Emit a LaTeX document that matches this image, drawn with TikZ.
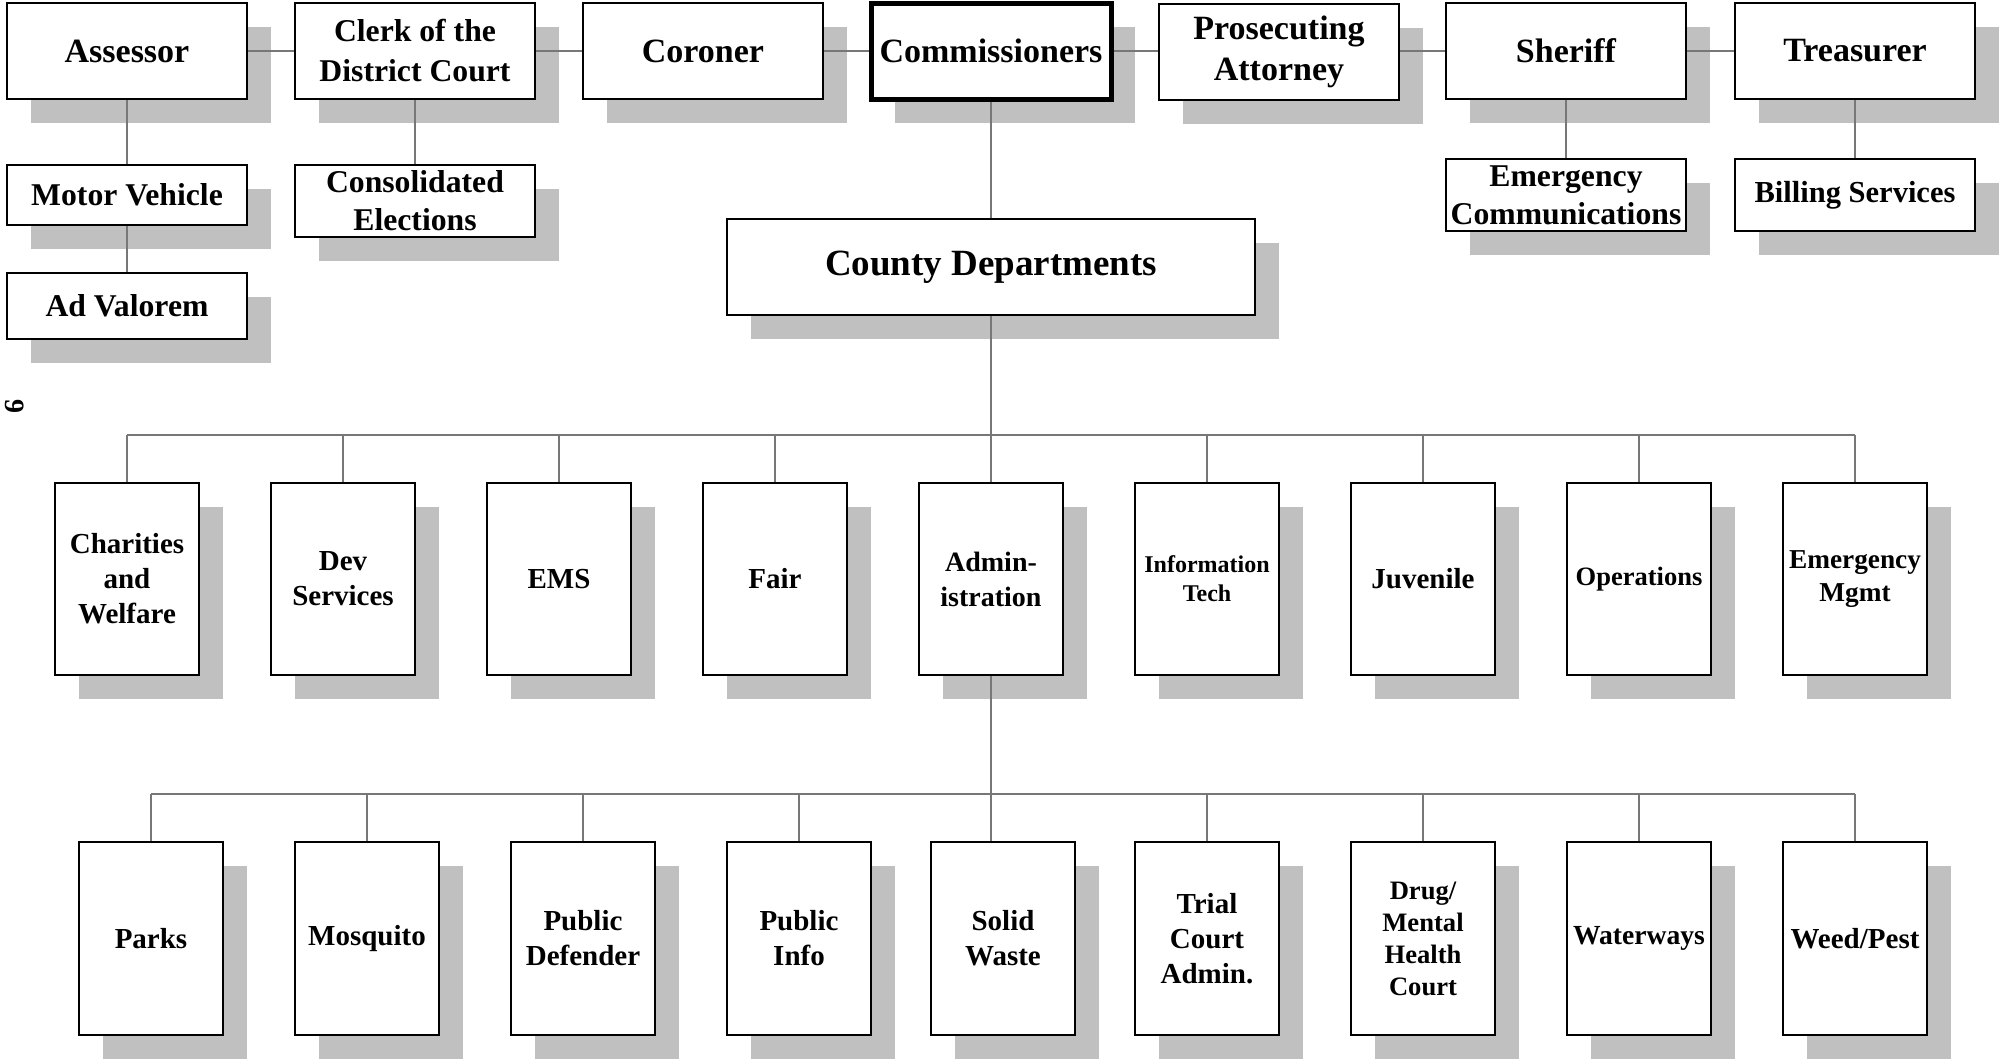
\documentclass[tikz,border=0pt]{standalone}
\usepackage{fontspec}
\setmainfont{Liberation Serif}
\usetikzlibrary{shadows,calc}
\definecolor{shadowc}{HTML}{C0C0C0}
\definecolor{linec}{HTML}{777777}
\begin{document}
\begin{tikzpicture}[x=1pt,y=-1pt,
  fz/.style 2 args={font=\bfseries\fontsize{#1}{#2}\selectfont},
  box/.style={draw=black, line width=2pt, fill=white, inner sep=0pt, align=center,
     drop shadow={shadow xshift=24pt, shadow yshift=-24pt, fill=shadowc, opacity=1}},
  topbox/.style={box, minimum width=240pt, minimum height=96pt, fz={34}{41}},
  subbox/.style={box, minimum width=240pt, fz={31.7}{38}},
  deptbox/.style={box, minimum width=144pt, minimum height=192pt, fz={29}{35}},
  conn/.style={draw=linec, line width=1.6pt}]
\fill[white] (0,0) rectangle (2000,1058);
\useasboundingbox (0,0) rectangle (2000,1058);

% top row
\node[topbox] (ass) at (127,51) {Assessor};
\node[topbox, fz={31.7}{40}] (clerk) at (415,51) {Clerk of the\\District Court};
\node[topbox] (cor) at (703,51) {Coroner};
\node[topbox, line width=5pt] (com) at (991,51) {Commissioners};
\node[topbox] (pro) at (1279,52) {Prosecuting\\Attorney};
\node[topbox] (sher) at (1566,51) {Sheriff};
\node[topbox] (tre) at (1855,51) {Treasurer};

% second row
\node[subbox, minimum height=60pt] (mv) at (127,195) {Motor Vehicle};
\node[subbox, minimum height=66pt] (adv) at (127,306) {Ad Valorem};
\node[subbox, minimum height=72pt] (cons) at (415,201) {Consolidated\\Elections};
\node[subbox, minimum height=72pt] (ecom) at (1566,195) {Emergency\\Communications};
\node[subbox, minimum height=72pt, fz={30.5}{38}] (bill) at (1855,195) {Billing Services};

% county departments
\node[box, minimum width=528pt, minimum height=96pt, fz={37}{44}] (cd) at (991,267) {County Departments};

% row 1
\node[deptbox] (cw) at (127,579) {Charities\\and\\Welfare};
\node[deptbox] (dev) at (343,579) {Dev\\Services};
\node[deptbox] (ems) at (559,579) {EMS};
\node[deptbox] (fair) at (775,579) {Fair};
\node[deptbox, fz={28}{35}] (adm) at (991,579) {Admin-\\istration};
\node[deptbox, fz={24}{29}] (it) at (1207,579) {Information\\Tech};
\node[deptbox] (juv) at (1423,579) {Juvenile};
\node[deptbox, fz={26.5}{33}] (ops) at (1639,579) {Operations};
\node[deptbox, fz={27.3}{33}] (em) at (1855,579) {Emergency\\Mgmt};

% row 2
\node[deptbox, minimum height=193pt] (parks) at (151,938.5) {Parks};
\node[deptbox, minimum height=193pt] (mosq) at (367,938.5) {Mosquito};
\node[deptbox, minimum height=193pt] (pd) at (583,938.5) {Public\\Defender};
\node[deptbox, minimum height=193pt] (pi) at (799,938.5) {Public\\Info};
\node[deptbox, minimum height=193pt] (sw) at (1003,938.5) {Solid\\Waste};
\node[deptbox, minimum height=193pt] (tca) at (1207,938.5) {Trial\\Court\\Admin.};
\node[deptbox, minimum height=193pt, fz={26.6}{32}] (drug) at (1423,938.5) {Drug/\\Mental\\Health\\Court};
\node[deptbox, minimum height=193pt, fz={27.6}{35}] (wat) at (1639,938.5) {Waterways};
\node[deptbox, minimum height=193pt] (weed) at (1855,938.5) {Weed/Pest};

% page number
\node[rotate=-90, inner sep=0pt, fz={28}{28}] (pg) at (15,406) {9};

% connectors
\draw[conn] (ass) -- (clerk);
\draw[conn] (clerk) -- (cor);
\draw[conn] (cor) -- (com);
\draw[conn] (com) -- (pro.west |- com);
\draw[conn] (pro.east |- sher) -- (sher);
\draw[conn] (sher) -- (tre);
\draw[conn] (ass) -- (mv);
\draw[conn] (mv) -- (adv);
\draw[conn] (clerk) -- (cons);
\draw[conn] (sher) -- (ecom);
\draw[conn] (tre) -- (bill);
\draw[conn] (com) -- (cd);

\coordinate (b1) at (991,435);
\coordinate (b2) at (991,794);
\draw[conn] (cd.south) -- (adm.north);
\draw[conn] (cw.north |- b1) -- (em.north |- b1);
\foreach \n in {cw,dev,ems,fair,it,juv,ops,em}
  \draw[conn] (\n.north) -- (\n.north |- b1);
\draw[conn] (adm.south) -- (adm.south |- sw.north);
\draw[conn] (parks.north |- b2) -- (weed.north |- b2);
\foreach \n in {parks,mosq,pd,pi,tca,drug,wat,weed}
  \draw[conn] (\n.north) -- (\n.north |- b2);
\end{tikzpicture}
\end{document}
